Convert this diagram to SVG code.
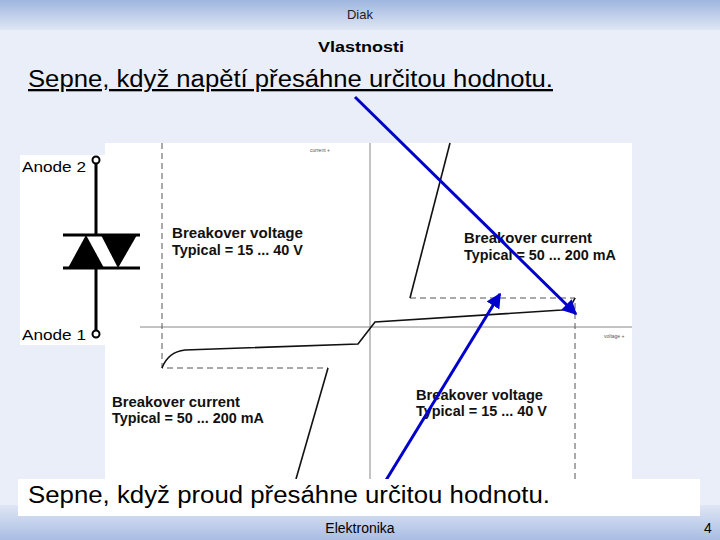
<svg xmlns="http://www.w3.org/2000/svg" width="720" height="540" viewBox="0 0 720 540">
<defs>
<linearGradient id="hdr" x1="0" y1="0" x2="0" y2="1"><stop offset="0" stop-color="#9fb6e0"/><stop offset="1" stop-color="#dfe6f4"/></linearGradient>
<linearGradient id="ftr" x1="0" y1="0" x2="0" y2="1"><stop offset="0" stop-color="#dfe6f4"/><stop offset="1" stop-color="#a9bde3"/></linearGradient>
<marker id="ah" viewBox="0 0 10 10" refX="9" refY="5" markerWidth="5" markerHeight="5" orient="auto"><path d="M0,0 L10,5 L0,10 z" fill="#0000cc"/></marker>
<style>
.s{font-family:"Liberation Sans",Arial,sans-serif}
.b{font-family:"Liberation Sans",Arial,sans-serif;font-weight:bold;font-size:14px;fill:#111}
.d{stroke:#555;stroke-width:1;stroke-dasharray:6 4;fill:none}
.c{stroke:#111;stroke-width:1.6;fill:none}
.ar{stroke:#0000cc;stroke-width:3;fill:none;marker-end:url(#ah)}
</style>
</defs>
<rect width="720" height="540" fill="#e9eef8"/>
<rect width="720" height="30" fill="url(#hdr)"/>
<rect y="505" width="720" height="35" fill="url(#ftr)"/>
<text class="s" x="360" y="19" font-size="13" text-anchor="middle" fill="#222">Diak</text>
<text class="s" x="361" y="52" font-size="15" font-weight="bold" text-anchor="middle" textLength="86" lengthAdjust="spacingAndGlyphs">Vlastnosti</text>
<text class="s" x="28" y="87" font-size="23" text-decoration="underline" textLength="525" lengthAdjust="spacingAndGlyphs">Sepne, když napětí přesáhne určitou hodnotu.</text>
<g id="graph">
<rect x="105" y="143" width="527" height="336" fill="#fff"/>
<line x1="370" y1="143" x2="370" y2="479" stroke="#888"/>
<line x1="140" y1="327" x2="632" y2="327" stroke="#888"/>
<text class="s" x="310" y="152" font-size="5" fill="#555">current +</text>
<text class="s" x="604" y="338" font-size="5" fill="#555">voltage +</text>
<path class="d" d="M162,143 V368 H328"/>
<path class="d" d="M410,298 H575 V479"/>
<path class="c" d="M162,368 Q168,352 185,350 L358,344 L375,322 L562,310 Q571,308 575,298"/>
<path class="c" d="M410,298 L450,143"/>
<path class="c" d="M328,368 L296,479"/>
<text class="b" x="172" y="238" textLength="131" lengthAdjust="spacingAndGlyphs">Breakover voltage</text>
<text class="b" x="172" y="255" textLength="131" lengthAdjust="spacingAndGlyphs">Typical = 15 ... 40 V</text>
<text class="b" x="464" y="243" textLength="128" lengthAdjust="spacingAndGlyphs">Breakover current</text>
<text class="b" x="464" y="260" textLength="152" lengthAdjust="spacingAndGlyphs">Typical = 50 ... 200 mA</text>
<text class="b" x="112" y="407" textLength="128" lengthAdjust="spacingAndGlyphs">Breakover current</text>
<text class="b" x="112" y="423" textLength="152" lengthAdjust="spacingAndGlyphs">Typical = 50 ... 200 mA</text>
<text class="b" x="416" y="400" textLength="127" lengthAdjust="spacingAndGlyphs">Breakover voltage</text>
<text class="b" x="416" y="416" textLength="131" lengthAdjust="spacingAndGlyphs">Typical = 15 ... 40 V</text>
</g>
<g id="diode">
<rect x="20" y="155" width="85" height="190" fill="#fff"/>
<line x1="96" y1="163" x2="96" y2="235" stroke="#000" stroke-width="3"/>
<line x1="96" y1="268" x2="96" y2="330" stroke="#000" stroke-width="3"/>
<line x1="63" y1="235" x2="140" y2="235" stroke="#000" stroke-width="3"/>
<line x1="63" y1="268" x2="140" y2="268" stroke="#000" stroke-width="3"/>
<polygon points="68,268 86,235 104,268" fill="#000"/>
<polygon points="101,235 137,235 118,268" fill="#000"/>
<circle cx="96" cy="160" r="3.5" fill="#fff" stroke="#000" stroke-width="2"/>
<circle cx="96" cy="334" r="3.5" fill="#fff" stroke="#000" stroke-width="2"/>
<text class="s" x="22" y="172" font-size="15" textLength="64" lengthAdjust="spacingAndGlyphs">Anode 2</text>
<text class="s" x="22" y="340" font-size="15" textLength="64" lengthAdjust="spacingAndGlyphs">Anode 1</text>
</g>
<g id="connectors">
<line class="ar" x1="355" y1="97" x2="576" y2="314"/>
<line class="ar" x1="380" y1="490" x2="500" y2="294"/>
</g>
<rect x="18" y="479" width="682" height="37" fill="#fff"/>
<text class="s" x="28" y="503" font-size="23" textLength="522" lengthAdjust="spacingAndGlyphs">Sepne, když proud přesáhne určitou hodnotu.</text>
<text class="s" x="360" y="533" font-size="14" text-anchor="middle">Elektronika</text>
<text class="s" x="704" y="533" font-size="14">4</text>
</svg>
